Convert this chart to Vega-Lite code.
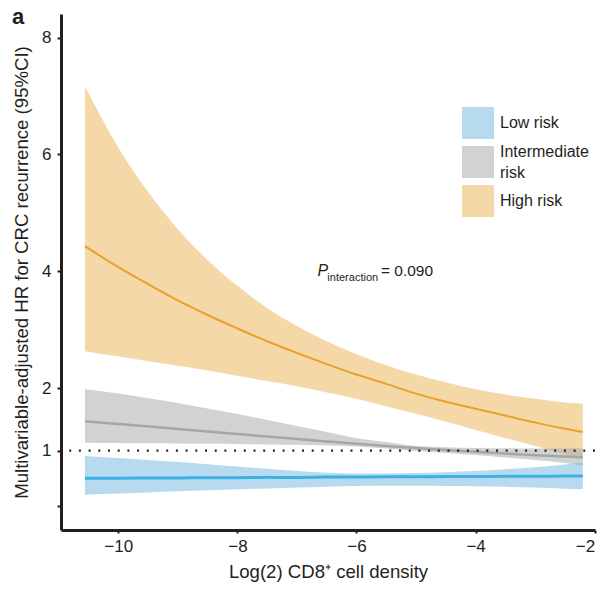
{
  "$schema": "https://vega.github.io/schema/vega-lite/v6.json",
  "width": 534,
  "height": 516,
  "autosize": {"type": "none"},
  "padding": {"left": 61, "top": 14, "right": 3, "bottom": 62},
  "background": "white",
  "title": {"text": "a", "anchor": "start", "frame": "group", "orient": "top", "fontSize": 22, "fontWeight": "bold", "font": "Liberation Sans", "color": "#231f20", "dx": -49, "dy": 32, "offset": 0, "baseline": "alphabetic"},
  "config": {
    "view": {"stroke": null},
    "font": "Liberation Sans",
    "axis": {"grid": false, "domainColor": "#231f20", "domainWidth": 3, "tickColor": "#231f20", "tickWidth": 2, "tickSize": 3, "labelColor": "#231f20", "labelFontSize": 17, "labelFont": "Liberation Sans", "titleFont": "Liberation Sans", "titleFontSize": 18.6, "titleFontWeight": "normal", "titleColor": "#231f20", "labelFlush": false, "labelOverlap": false, "format": "d"}
  },
  "resolve": {"legend": {"stroke": "independent", "strokeWidth": "independent"}},
  "datasets": {
    "bands": [
      {"group": "High risk", "x": -10.56, "hr": 4.43, "lo": 2.63, "hi": 7.17},
      {"group": "High risk", "x": -10, "hr": 4.07, "lo": 2.54, "hi": 6.12},
      {"group": "High risk", "x": -9.5, "hr": 3.78, "lo": 2.46, "hi": 5.36},
      {"group": "High risk", "x": -9, "hr": 3.50, "lo": 2.38, "hi": 4.72},
      {"group": "High risk", "x": -8.5, "hr": 3.25, "lo": 2.30, "hi": 4.19},
      {"group": "High risk", "x": -8, "hr": 3.02, "lo": 2.21, "hi": 3.75},
      {"group": "High risk", "x": -7.5, "hr": 2.80, "lo": 2.12, "hi": 3.37},
      {"group": "High risk", "x": -7, "hr": 2.60, "lo": 2.03, "hi": 3.06},
      {"group": "High risk", "x": -6.5, "hr": 2.41, "lo": 1.93, "hi": 2.80},
      {"group": "High risk", "x": -6, "hr": 2.23, "lo": 1.83, "hi": 2.58},
      {"group": "High risk", "x": -5.5, "hr": 2.07, "lo": 1.71, "hi": 2.39},
      {"group": "High risk", "x": -5, "hr": 1.91, "lo": 1.59, "hi": 2.23},
      {"group": "High risk", "x": -4.5, "hr": 1.78, "lo": 1.46, "hi": 2.10},
      {"group": "High risk", "x": -4, "hr": 1.67, "lo": 1.33, "hi": 1.98},
      {"group": "High risk", "x": -3.5, "hr": 1.56, "lo": 1.20, "hi": 1.895},
      {"group": "High risk", "x": -3, "hr": 1.45, "lo": 1.075, "hi": 1.83},
      {"group": "High risk", "x": -2.5, "hr": 1.35, "lo": 0.94, "hi": 1.77},
      {"group": "High risk", "x": -2.2, "hr": 1.30, "lo": 0.86, "hi": 1.75},
      {"group": "Intermediate risk", "x": -10.56, "hr": 1.47, "lo": 1.128, "hi": 1.98},
      {"group": "Intermediate risk", "x": -10, "hr": 1.427, "lo": 1.123, "hi": 1.912},
      {"group": "Intermediate risk", "x": -9.5, "hr": 1.388, "lo": 1.119, "hi": 1.837},
      {"group": "Intermediate risk", "x": -9, "hr": 1.346, "lo": 1.115, "hi": 1.76},
      {"group": "Intermediate risk", "x": -8.5, "hr": 1.306, "lo": 1.111, "hi": 1.673},
      {"group": "Intermediate risk", "x": -8, "hr": 1.266, "lo": 1.107, "hi": 1.585},
      {"group": "Intermediate risk", "x": -7.5, "hr": 1.226, "lo": 1.10, "hi": 1.49},
      {"group": "Intermediate risk", "x": -7, "hr": 1.187, "lo": 1.094, "hi": 1.394},
      {"group": "Intermediate risk", "x": -6.5, "hr": 1.148, "lo": 1.083, "hi": 1.298},
      {"group": "Intermediate risk", "x": -6, "hr": 1.11, "lo": 1.067, "hi": 1.20},
      {"group": "Intermediate risk", "x": -5.5, "hr": 1.075, "lo": 1.035, "hi": 1.139},
      {"group": "Intermediate risk", "x": -5, "hr": 1.043, "lo": 0.995, "hi": 1.075},
      {"group": "Intermediate risk", "x": -4.5, "hr": 1.011, "lo": 0.958, "hi": 1.056},
      {"group": "Intermediate risk", "x": -4, "hr": 0.98, "lo": 0.92, "hi": 1.043},
      {"group": "Intermediate risk", "x": -3.5, "hr": 0.947, "lo": 0.876, "hi": 1.039},
      {"group": "Intermediate risk", "x": -3, "hr": 0.916, "lo": 0.83, "hi": 1.035},
      {"group": "Intermediate risk", "x": -2.5, "hr": 0.893, "lo": 0.776, "hi": 1.037},
      {"group": "Intermediate risk", "x": -2.2, "hr": 0.88, "lo": 0.73, "hi": 1.038},
      {"group": "Low risk", "x": -10.56, "hr": 0.50, "lo": 0.20, "hi": 0.904},
      {"group": "Low risk", "x": -10, "hr": 0.50, "lo": 0.222, "hi": 0.867},
      {"group": "Low risk", "x": -9.5, "hr": 0.505, "lo": 0.242, "hi": 0.831},
      {"group": "Low risk", "x": -9, "hr": 0.505, "lo": 0.262, "hi": 0.795},
      {"group": "Low risk", "x": -8.5, "hr": 0.51, "lo": 0.28, "hi": 0.754},
      {"group": "Low risk", "x": -8, "hr": 0.51, "lo": 0.298, "hi": 0.713},
      {"group": "Low risk", "x": -7.5, "hr": 0.515, "lo": 0.315, "hi": 0.672},
      {"group": "Low risk", "x": -7, "hr": 0.515, "lo": 0.331, "hi": 0.63},
      {"group": "Low risk", "x": -6.5, "hr": 0.52, "lo": 0.345, "hi": 0.60},
      {"group": "Low risk", "x": -6, "hr": 0.52, "lo": 0.358, "hi": 0.585},
      {"group": "Low risk", "x": -5.5, "hr": 0.525, "lo": 0.361, "hi": 0.585},
      {"group": "Low risk", "x": -5, "hr": 0.525, "lo": 0.362, "hi": 0.595},
      {"group": "Low risk", "x": -4.5, "hr": 0.53, "lo": 0.358, "hi": 0.61},
      {"group": "Low risk", "x": -4, "hr": 0.53, "lo": 0.353, "hi": 0.63},
      {"group": "Low risk", "x": -3.5, "hr": 0.535, "lo": 0.343, "hi": 0.665},
      {"group": "Low risk", "x": -3, "hr": 0.535, "lo": 0.331, "hi": 0.70},
      {"group": "Low risk", "x": -2.5, "hr": 0.54, "lo": 0.31, "hi": 0.75},
      {"group": "Low risk", "x": -2.2, "hr": 0.54, "lo": 0.298, "hi": 0.78}
    ]
  },
  "layer": [
    {
      "data": {"name": "bands"},
      "mark": {"type": "area", "opacity": 0.5, "interpolate": "monotone"},
      "encoding": {
        "x": {"field": "x", "type": "quantitative", "scale": {"domain": [-10.962, -1.995], "nice": false, "zero": false},
              "axis": {"values": [-10, -8, -6, -4, -2], "title": "Log(2) CD8⁺ cell density", "labelPadding": 5, "titlePadding": 8, "labelFlush": true}},
        "y": {"field": "lo", "type": "quantitative",
              "scale": {"domain": [-0.44, 0, 1, 2, 8.406], "range": [516, 491.7, 436.7, 374, 0], "nice": false, "zero": false},
              "axis": {"values": [0, 1, 2, 4, 6, 8], "labelExpr": "datum.value == 0 ? '' : datum.label", "title": "Multivariable-adjusted HR for CRC recurrence (95%CI)", "tickSize": 4, "labelPadding": 6, "titlePadding": 10}},
        "y2": {"field": "hi"},
        "fill": {"field": "group", "type": "nominal",
                 "scale": {"domain": ["Low risk", "Intermediate risk", "High risk"], "range": ["#6FB5DD", "#A3A5A5", "#E9B151"]},
                 "legend": {"title": null, "orient": "none", "legendX": 401, "legendY": 93, "symbolType": "square", "symbolSize": 1024, "symbolOpacity": 0.5, "symbolStrokeWidth": 0, "labelFontSize": 16, "labelFont": "Liberation Sans", "labelColor": "#231f20", "labelOffset": 6, "rowPadding": 4, "padding": 0, "labelExpr": "datum.label == 'Intermediate risk' ? ['Intermediate', 'risk'] : datum.label", "labelLimit": 200,
                            "encode": {"symbols": {"update": {"stroke": {"value": "transparent"}, "strokeWidth": {"value": 0}}},
                                       "labels": {"update": {"lineHeight": {"value": 21}, "dy": {"signal": "datum.value == 'Intermediate risk' ? -10.5 : 0"}}}}}}
      }
    },
    {
      "data": {"name": "bands"},
      "mark": {"type": "line", "interpolate": "monotone"},
      "encoding": {
        "x": {"field": "x", "type": "quantitative"},
        "y": {"field": "hr", "type": "quantitative"},
        "stroke": {"field": "group", "type": "nominal",
                   "scale": {"domain": ["Low risk", "Intermediate risk", "High risk"], "range": ["#3CB0E2", "#A5A6A7", "#E8A229"]}, "legend": null},
        "strokeWidth": {"field": "group", "type": "nominal",
                        "scale": {"domain": ["Low risk", "Intermediate risk", "High risk"], "range": [3, 2, 2.5]}, "legend": null}
      }
    },
    {
      "data": {"values": [{"ref": 1}]},
      "mark": {"type": "rule", "color": "#231f20", "strokeWidth": 2.2, "strokeDash": [2, 7.7]},
      "encoding": {"y": {"field": "ref", "type": "quantitative"}}
    },
    {
      "data": {"values": [{"t": "P", "x": -6.653, "y": 3.923}]},
      "mark": {"type": "text", "fontSize": 16, "fontStyle": "italic", "align": "left", "baseline": "alphabetic", "color": "#231f20"},
      "encoding": {"x": {"field": "x", "type": "quantitative"}, "y": {"field": "y", "type": "quantitative"}, "text": {"field": "t"}}
    },
    {
      "data": {"values": [{"t": "interaction", "x": -6.489, "y": 3.832}]},
      "mark": {"type": "text", "fontSize": 11, "align": "left", "baseline": "alphabetic", "color": "#231f20"},
      "encoding": {"x": {"field": "x", "type": "quantitative"}, "y": {"field": "y", "type": "quantitative"}, "text": {"field": "t"}}
    },
    {
      "data": {"values": [{"t": "= 0.090", "x": -5.59, "y": 3.923}]},
      "mark": {"type": "text", "fontSize": 15.5, "align": "left", "baseline": "alphabetic", "color": "#231f20"},
      "encoding": {"x": {"field": "x", "type": "quantitative"}, "y": {"field": "y", "type": "quantitative"}, "text": {"field": "t"}}
    }
  ]
}
